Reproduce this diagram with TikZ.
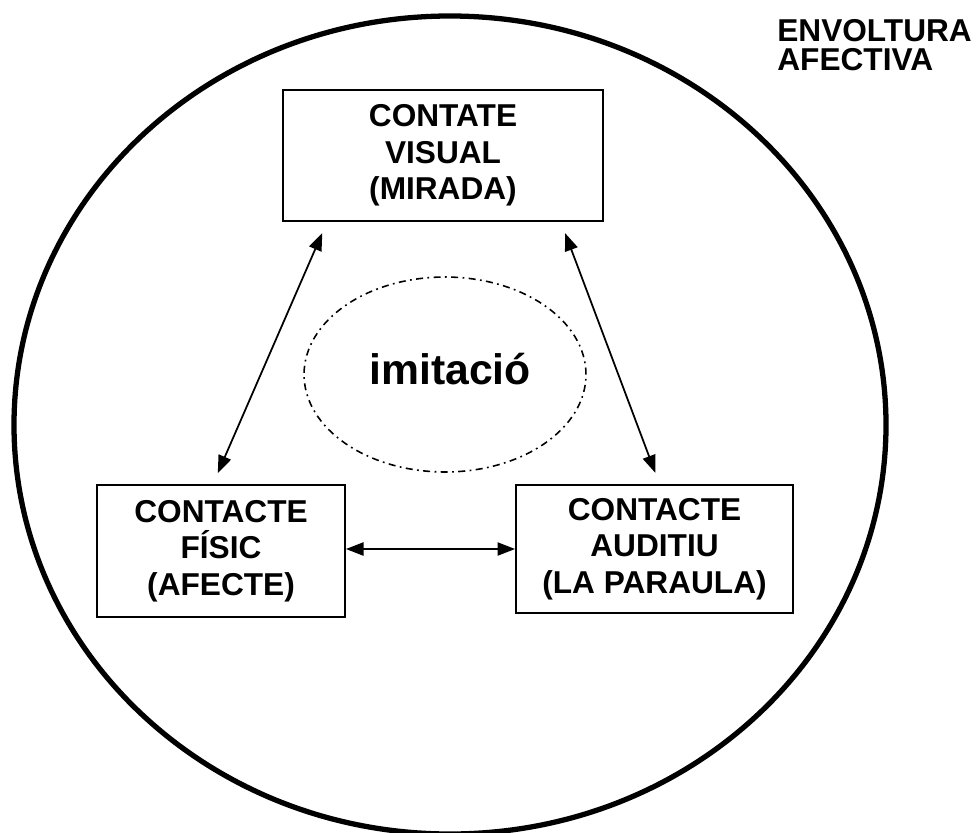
\documentclass[tikz,border=0pt]{standalone}
\usepackage{fontspec}
\setmainfont{Liberation Sans}
\usetikzlibrary{arrows.meta,shapes,calc}

\begin{document}
\begin{tikzpicture}[x=0.02cm,y=-0.02cm,
  box/.style={draw,line width=1.1pt,inner sep=0pt,align=center,
    font=\fontsize{18}{20.8}\selectfont\bfseries},
  link/.style={{Triangle[length=10pt,width=7.5pt]}-{Triangle[length=10pt,width=7.5pt]},line width=1pt}]
  \useasboundingbox (0,0) rectangle (979,832);
  \draw[line width=3pt] (450,425) ellipse [x radius=436,y radius=409];
  \node[anchor=north west,inner sep=0pt,align=left,
    font=\fontsize{18}{16.7}\selectfont\bfseries] (env) at (777,19) {ENVOLTURA\\AFECTIVA};

  \node[box,minimum width=6.4cm,minimum height=2.62cm] (vis) at (443,155.5) {CONTATE\\VISUAL\\(MIRADA)};
  \node[box,minimum width=4.96cm,minimum height=2.64cm] (fis) at (221,551) {CONTACTE\\FÍSIC\\(AFECTE)};
  \node[box,minimum width=5.54cm,minimum height=2.56cm] (aud) at (654.5,549) {CONTACTE\\AUDITIU\\(LA PARAULA)};
  \node[ellipse,draw,line width=0.9pt,dash pattern=on 4pt off 2.5pt on 1pt off 2.5pt,
    minimum width=5.64cm,minimum height=3.9cm,inner sep=0pt,
    font=\fontsize{24.3}{28}\selectfont\bfseries,text height=17pt,text depth=6pt] (imi) at (445,374.5) {\hspace*{6pt}imitació};

  \draw[link,shorten <=0.24cm,shorten >=0.24cm] ($(vis.south west)+(45,0)$) -- ($(fis.north)+(-8,0)$);
  \draw[link,shorten <=0.24cm,shorten >=0.24cm] ($(vis.south east)+(-43,0)$) -- ($(aud.north)+(5,0)$);
  \draw[link] (fis.east |- aud.west) -- (aud.west);
\end{tikzpicture}
\end{document}
